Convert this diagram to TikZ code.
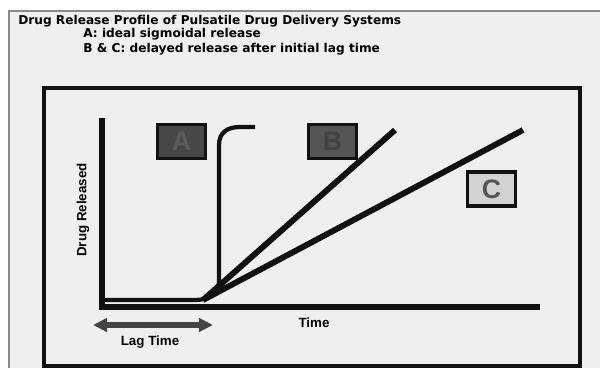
\documentclass[tikz,border=0pt]{standalone}
\usepackage{fontspec}
\setmainfont{Liberation Sans}
\newfontfamily\headfont{DejaVu Sans}
\usepackage{xcolor}
\usetikzlibrary{positioning, arrows.meta}
\definecolor{PaperA}{HTML}{EFEFEF}
\definecolor{EdgeA}{HTML}{8A8A8A}
\definecolor{InkA}{HTML}{111111}
\definecolor{DarkA}{HTML}{474747}
\definecolor{DarkB}{HTML}{5C5C5C}
\definecolor{MidA}{HTML}{555555}
\definecolor{MidB}{HTML}{424242}
\definecolor{LightA}{HTML}{D3D3D3}
\definecolor{ArrowA}{HTML}{444444}
\tikzset{
  headline/.style={anchor=west, inner sep=0pt, font=\headfont\bfseries\fontsize{8.65}{9}\selectfont},
  axislbl/.style={font=\bfseries\fontsize{9.5}{11}\selectfont, inner sep=0pt},
  tag/.style={draw=InkA, line width=2.2pt, minimum width=1.2cm, minimum height=0.85cm,
              inner sep=0pt, font=\bfseries\fontsize{19}{20}\selectfont},
  axisline/.style={draw=InkA, line width=3.6pt},
  curve/.style={draw=InkA, line width=4.2pt},
  sigm/.style={draw=InkA, line width=3pt},
  lagarr/.style={{Triangle[length=0.35cm,width=0.33cm]}-{Triangle[length=0.35cm,width=0.33cm]},
                 draw=ArrowA, line width=3.6pt},
}
\begin{document}
\begin{tikzpicture}[x=0.025cm, y=-0.025cm]
  \useasboundingbox (0,0) rectangle (600,368);
  \fill[white] (0,0) rectangle (600,368);
  \fill[PaperA] (9,11) rectangle (600,368);
  \draw[EdgeA, line width=0.8pt] (9,368) -- (9,11) -- (600,11);

  % heading
  \node[headline] (title) at (18,21) {Drug Release Profile of Pulsatile Drug Delivery Systems};
  \node[headline] (lineA) at (83,34) {A: ideal sigmoidal release};
  \node[headline] (lineBC) at (83,49) {B \& C: delayed release after initial lag time};

  % frame and axes
  \draw[InkA, line width=2.4pt] (44,88) rectangle (580,366);
  \coordinate (origin) at (102,307);
  \coordinate (ytop) at (102,118);
  \coordinate (xend) at (540,307);
  \draw[axisline] (ytop) -- (origin) -- (xend);

  % release curves
  \coordinate (lagend) at (203,300);
  \coordinate (endB) at (395,130);
  \coordinate (endC) at (523,130);
  \draw[sigm, line join=round] (104,300) -- (196,300) .. controls (208,300) and (219,292) .. (219,282)
       -- (219,145) .. controls (219,132) and (228,127) .. (240,127) -- (255,127);
  \draw[curve] (lagend) -- (endB);
  \draw[curve] (lagend) -- (endC);

  % curve tags
  \node[tag, fill=DarkA, text=DarkB] (tagA) at (181.5,141.5) {A};
  \node[tag, fill=MidA, text=MidB] (tagB) at (332.5,141.5) {B};
  \node[tag, fill=LightA, text=MidA] (tagC) at (491.5,189) {C};

  % labels
  \node[axislbl, rotate=90] (ylbl) at (83,210) {Drug Released};
  \node[axislbl] (xlbl) at (314,323) {Time};
  \coordinate (lagL) at (93,325);
  \coordinate (lagR) at (213,325);
  \draw[lagarr] (lagL) -- (lagR);
  \node[axislbl] (laglbl) at (150,342) {Lag Time};
\end{tikzpicture}
\end{document}
